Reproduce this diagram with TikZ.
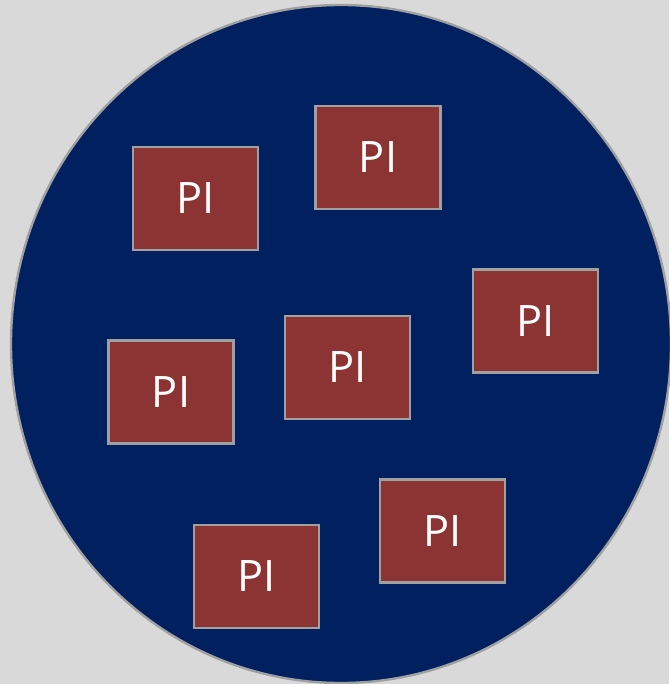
\documentclass[tikz,border=0pt]{standalone}
\usepackage{fontspec}
\setmainfont{Open Sans}
\usepackage{xcolor}
\usepackage{tikz}

\definecolor{bgrey}{RGB}{217,217,217}
\definecolor{navy}{RGB}{0,32,96}
\definecolor{brick}{RGB}{140,51,51}
\definecolor{rim}{RGB}{160,160,160}

\tikzset{
	pibox/.style={draw=rim, line width=1.8pt, fill=brick, text=white,
		minimum width=3.75cm, minimum height=3.09cm, inner sep=0pt,
		font=\fontsize{37}{42}\selectfont},
}

\begin{document}
\begin{tikzpicture}[x=0.03cm,y=-0.03cm]
		\fill[bgrey] (0,0) rectangle (669,684);
		\useasboundingbox (0,0) rectangle (669,684);
		%
		\draw[rim, line width=2pt, fill=navy] (341,344) ellipse [x radius=330, y radius=339];
		%
		\node[pibox] (p1) at (195.5,198.5) {PI};
		\node[pibox] (p2) at (378,157.5) {PI};
		\node[pibox] (p3) at (535.5,321) {PI};
		\node[pibox] (p4) at (347.5,367.5) {PI};
		\node[pibox] (p5) at (171,392) {PI};
		\node[pibox] (p6) at (442.5,531) {PI};
		\node[pibox] (p7) at (256.5,576.5) {PI};
	\end{tikzpicture}
\end{document}
